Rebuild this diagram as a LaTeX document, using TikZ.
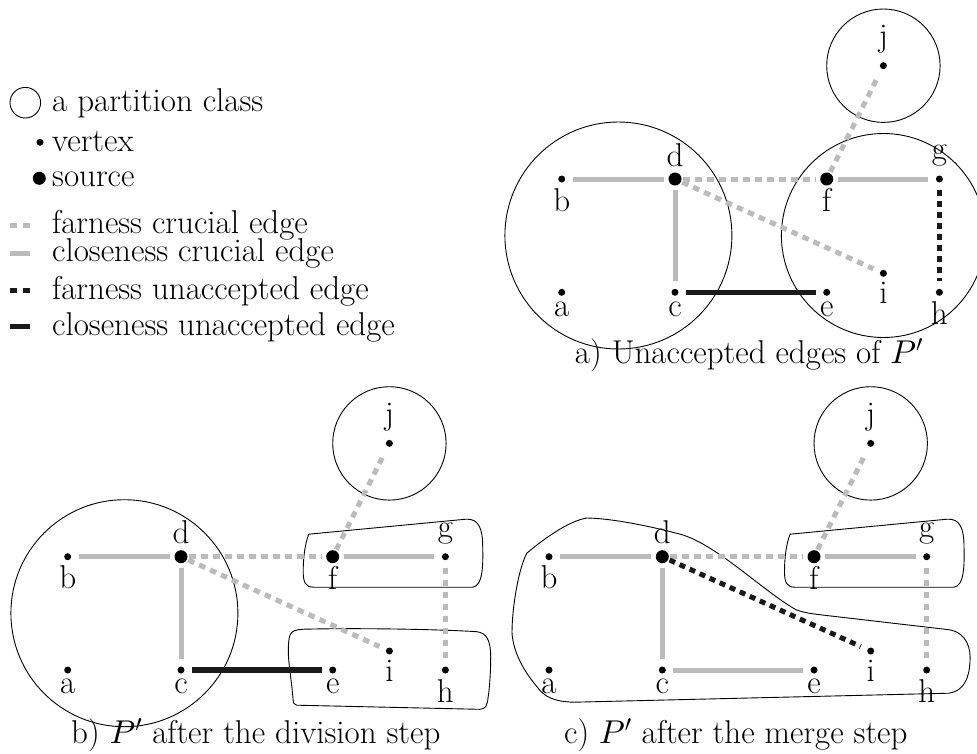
\documentclass[tikz,border=0pt]{standalone}
\DeclareFontShape{OML}{cmm}{m}{it}{<->cmmi10}{}
\DeclareFontShape{OMS}{cmsy}{m}{n}{<->cmsy10}{}
\definecolor{lg}{HTML}{BBBBBB}
\definecolor{dk}{HTML}{1A1A1A}
\tikzset{
  vtx/.style={circle,fill=black,inner sep=0,minimum size=7pt},
  src/.style={circle,fill=black,inner sep=0,minimum size=13pt},
  lblb/.style={inner sep=0,anchor=north,yshift=-9pt},
  lbla/.style={inner sep=0,anchor=south,yshift=12.5pt},
  cls/.style={draw=black,line width=0.9pt},
  gsol/.style={draw=lg,line width=5pt,shorten >=11pt,shorten <=11pt},
  gdash/.style={gsol,dash pattern=on 6.5pt off 5.5pt},
  bsol/.style={draw=dk,line width=5.5pt,shorten >=11pt,shorten <=11pt},
  bdash/.style={bsol,line width=5pt,dash pattern=on 6pt off 5pt},
  txt/.style={inner sep=0,anchor=base west},
  captn/.style={inner sep=0,anchor=base}
}
\newcommand{\mkgraph}[1]{%
  \node[vtx] (a#1) at (0,113.3) {};
  \node[vtx] (b#1) at (0,0) {};
  \node[vtx] (c#1) at (113.3,113.3) {};
  \node[src] (d#1) at (113.3,0) {};
  \node[vtx] (e#1) at (265,113.3) {};
  \node[src] (f#1) at (265,0) {};
  \node[vtx] (g#1) at (377.7,0) {};
  \node[vtx] (h#1) at (377.7,113.3) {};
  \node[vtx] (i#1) at (321.7,94.3) {};
  \node[vtx] (j#1) at (321.7,-113.3) {};
  \node[lblb] (la#1) at (a#1.center) {a};
  \node[lblb] (lb#1) at (b#1.center) {b};
  \node[lblb] (lc#1) at (c#1.center) {c};
  \node[lbla] (ld#1) at (d#1.center) {d};
  \node[lblb] (le#1) at (e#1.center) {e};
  \node[lblb] (lf#1) at (f#1.center) {f};
  \node[lbla] (lg#1) at (g#1.center) {g};
  \node[lblb] (lh#1) at (h#1.center) {h};
  \node[lblb] (li#1) at (i#1.center) {i};
  \node[lbla] (lj#1) at (j#1.center) {j};
  \draw[gsol] (b#1.center) -- (d#1.center);
  \draw[gsol] (d#1.center) -- (c#1.center);
  \draw[gdash,shorten <=8pt] (d#1.center) -- (f#1.center);
  \draw[gsol] (f#1.center) -- (g#1.center);
  \draw[gdash,shorten <=8pt,shorten >=12pt] (f#1.center) -- (j#1.center);
}
\newcommand{\fgbox}{%
  (241,-22.5) -- (398,-37.5) .. controls (411,-38.5) and (415,-28) .. (415,-10)
  .. controls (415.5,10) and (415,29) .. (405,30.5) -- (246,30.5)
  .. controls (238,30.5) and (235.5,26) .. (235.5,15)
  .. controls (235.5,2) and (237,-12) .. (241,-22.5) -- cycle}
\begin{document}
\begin{tikzpicture}[x=1pt,y=-1pt,every node/.append style={font=\fontsize{33}{40}\selectfont}]
\useasboundingbox (0,0) rectangle (977,753);
% legend
\draw[cls] (25.3,102.7) circle[radius=15.3];
\node[txt] (t1) at (52,111) {a partition class};
\node[vtx] (lv) at (40,142.3) {};
\node[txt] (t2) at (52,151) {vertex};
\node[src] (ls) at (39.3,178.3) {};
\node[txt] (t3) at (52,186.7) {source};
\coordinate (p1) at (10,225); \coordinate (q1) at (30,225);
\draw[draw=lg,line width=5pt,dash pattern=on 6.5pt off 6.5pt] (p1) -- (q1);
\node[txt] (t4) at (52,233.3) {farness crucial edge};
\coordinate (p2) at (10,253.3); \coordinate (q2) at (30,253.3);
\draw[draw=lg,line width=5pt] (p2) -- (q2);
\node[txt] (t5) at (52,261.7) {closeness crucial edge};
\coordinate (p3) at (10,290.7); \coordinate (q3) at (30,290.7);
\draw[draw=dk,line width=5pt,dash pattern=on 6.5pt off 6.5pt] (p3) -- (q3);
\node[txt] (t6) at (52,299) {farness unaccepted edge};
\coordinate (p4) at (10,326.7); \coordinate (q4) at (30,326.7);
\draw[draw=dk,line width=5.5pt] (p4) -- (q4);
\node[txt] (t7) at (52,335) {closeness unaccepted edge};
% panel a
\begin{scope}[shift={(561.7,179)}]
  \draw[cls] (56.7,56.5) circle[radius=113.5];
  \draw[cls] (321.7,56.5) circle[radius=102];
  \draw[cls] (321.7,-113.3) circle[radius=56.7];
  \mkgraph{1}
  \draw[gdash,shorten <=8pt] (d1.center) -- (i1.center);
  \draw[bdash] (g1.center) -- (h1.center);
  \draw[bsol] (c1.center) -- (e1.center);
\end{scope}
\node[captn] (capa) at (749,363.3) {a) Unaccepted edges of $P'$};
% panel b
\begin{scope}[shift={(67.7,556.7)}]
  \draw[cls] (56.7,56.5) circle[radius=113.5];
  \draw[cls] (321.7,-113.3) circle[radius=56.7];
  \draw[cls] \fgbox;
  \draw[cls] (222.3,78.3) .. controls (224,74) and (228,73) .. (236,72.5)
    .. controls (300,71) and (380,73) .. (409,75)
    .. controls (419,76) and (423,84) .. (423,100)
    .. controls (423,115) and (422,130) .. (420.5,140)
    .. controls (419.5,149) and (418,152.6) .. (412,152.6) -- (229,148.5)
    .. controls (226,148) and (225.6,146) .. (225.4,143)
    .. controls (224,125) and (220.5,105) .. (220.6,95)
    .. controls (220.6,88) and (221,82) .. (222.3,78.3) -- cycle;
  \mkgraph{2}
  \draw[gdash,shorten <=8pt] (d2.center) -- (i2.center);
  \draw[gdash] (g2.center) -- (h2.center);
  \draw[bsol] (c2.center) -- (e2.center);
\end{scope}
\node[captn] (capb) at (255.8,743.3) {b) $P'$ after the division step};
% panel c
\begin{scope}[shift={(549,556.7)}]
  \draw[cls] (321.7,-113.3) circle[radius=56.7];
  \draw[cls] \fgbox;
  \draw[cls] (-22,-3.7) .. controls (-5,-18) and (20,-36) .. (38,-38.7)
    .. controls (70,-38) and (115,-27) .. (134,-21.7)
    .. controls (170,-10) and (215,35) .. (247,53)
    .. controls (255,56) and (262,57) .. (275,58.5)
    -- (400,73)
    .. controls (418,76) and (422,92) .. (421,105)
    .. controls (420,122) and (415,134) .. (400,136.5)
    -- (25,145.5)
    .. controls (5,145) and (-5,140) .. (-12,130)
    .. controls (-25,115) and (-36,95) .. (-37,76)
    .. controls (-37,50) and (-30,10) .. (-22,-3.7) -- cycle;
  \mkgraph{3}
  \draw[bdash,shorten <=8pt] (d3.center) -- (i3.center);
  \draw[gdash] (g3.center) -- (h3.center);
  \draw[gsol] (c3.center) -- (e3.center);
\end{scope}
\node[captn] (capc) at (735.8,743.3) {c) $P'$ after the merge step};
\end{tikzpicture}
\end{document}
